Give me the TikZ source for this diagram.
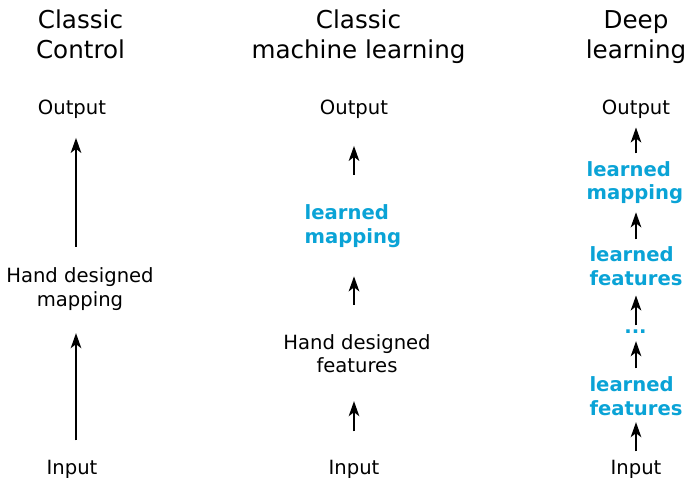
\documentclass[tikz,border=0pt]{standalone}
\usepackage{fontspec}
\setmainfont{DejaVu Sans}
\usetikzlibrary{arrows.meta}
\definecolor{learncyan}{RGB}{10,163,214}
\begin{document}
\begin{tikzpicture}[x=1pt,y=-1pt,
  title/.style={font=\fontsize{24.6}{30}\selectfont, align=center, inner sep=0pt, anchor=north},
  txt/.style={font=\fontsize{19.6}{23.5}\selectfont, align=center, inner sep=0pt},
  learned/.style={font=\fontsize{19.6}{23.5}\selectfont\bfseries, text=learncyan, align=left, inner sep=0pt, anchor=north west},
  arr/.style={-{Stealth[length=15pt,width=10.5pt,inset=4pt]}, line width=2.1pt}]
\useasboundingbox (0,0) rectangle (688,478);
% titles
\node[title] (t1) at (80.5,9.6) {Classic\\Control};
\node[title] (t2) at (358.5,9.6) {Classic\\machine learning};
\node[title] (t3) at (636,10.4) {Deep\\learning};
% arrow axes
\coordinate (ax1) at (76,0);
\coordinate (ax2) at (354,0);
\coordinate (ax3) at (636,0);
% column 1
\node[txt, anchor=base] (o1) at (72,114.5) {Output};
\node[txt, anchor=north] (m1) at (80,267.5) {Hand designed\\mapping};
\node[txt, anchor=base] (i1) at (72,474.5) {Input};
% column 2
\node[txt, anchor=base] (o2) at (354,114.5) {Output};
\node[learned] (l2) at (304.5,204.5) {learned\\mapping};
\node[txt, anchor=north] (f2) at (357,334.2) {Hand designed\\features};
\node[txt, anchor=base] (i2) at (354,474.5) {Input};
% column 3
\node[txt, anchor=base] (o3) at (636,114.5) {Output};
\node[learned] (l3a) at (586.5,161.2) {learned\\mapping};
\node[learned] (l3b) at (589.3,246.9) {learned\\features};
\node[txt, anchor=base, font=\fontsize{19.6}{23.5}\selectfont\bfseries, text=learncyan] (d3) at (635.5,334) {...};
\node[learned] (l3c) at (589.3,376.9) {learned\\features};
\node[txt, anchor=base] (i3) at (636,474) {Input};
% arrows column 1
\draw[arr, shorten <=20.8pt, shorten >=19.1pt] (m1.north -| ax1) -- (o1.south -| ax1);
\draw[arr, shorten <=19.6pt, shorten >=22.8pt] (i1.north -| ax1) -- (m1.south -| ax1);
% arrows column 2
\draw[arr, shorten <=29.5pt, shorten >=27.1pt] (l2.north -| ax2) -- (o2.south -| ax2);
\draw[arr, shorten <=29.2pt, shorten >=28.8pt] (f2.north -| ax2) -- (l2.south -| ax2);
\draw[arr, shorten <=28.6pt, shorten >=27.9pt] (i2.north -| ax2) -- (f2.south -| ax2);
% arrows column 3
\draw[arr, shorten <=7.9pt, shorten >=8.7pt] (l3a.north -| ax3) -- (o3.south -| ax3);
\draw[arr, shorten <=7.6pt, shorten >=8.1pt] (l3b.north -| ax3) -- (l3a.south -| ax3);
\draw[arr, shorten <=4.7pt, shorten >=9.5pt] (d3.north -| ax3) -- (l3b.south -| ax3);
\draw[arr, shorten <=8.6pt, shorten >=7pt] (l3c.north -| ax3) -- (d3.south -| ax3);
\draw[arr, shorten <=8.1pt, shorten >=6.2pt] (i3.north -| ax3) -- (l3c.south -| ax3);
\end{tikzpicture}
\end{document}
